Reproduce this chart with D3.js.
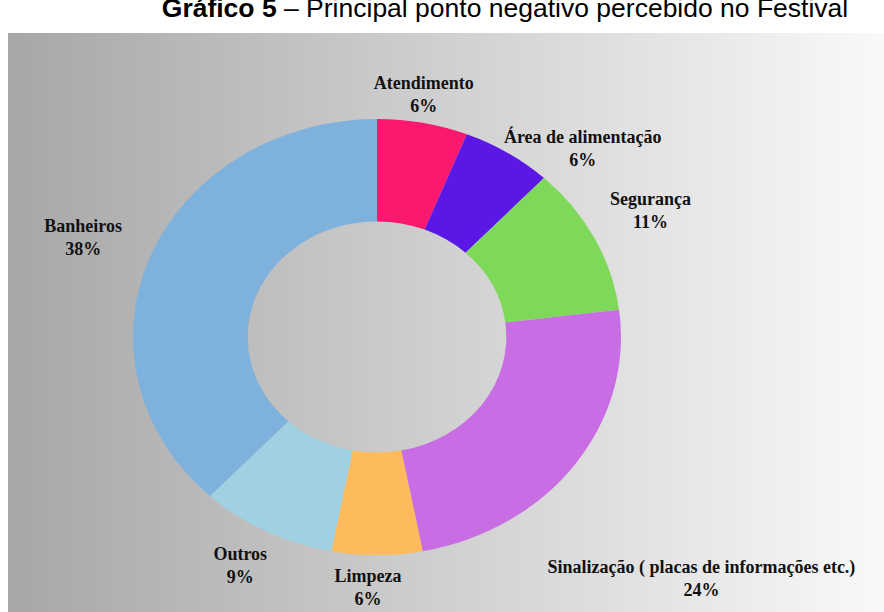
<!doctype html>
<html>
<head>
<meta charset="utf-8">
<title>Gráfico 5</title>
<script src="https://cdn.jsdelivr.net/npm/d3@7"></script>
<style>
  body { margin: 0; background: #fff; }
  .title { font-family: "Liberation Sans", Arial, sans-serif; font-size: 26.5px; fill: #000; }
  .lbl { font-family: "Liberation Serif", "Times New Roman", serif; font-size: 18px; font-weight: bold; fill: #111; }
</style>
</head>
<body>
<script>
// data
var categories = ["Atendimento", "Área de alimentação", "Segurança", "Sinalização ( placas de informações etc.)", "Limpeza", "Outros", "Banheiros"];
var values = [6, 6, 11, 24, 6, 9, 38];
var colors = ["#fc176f", "#5a17e6", "#7ed95a", "#c86de4", "#fdbb5b", "#9fd1e3", "#7eb1dc"];
// label offsets from the outer edge of each slice (manual placement like the original)
var labelNudge = [[1, -34], [75, -10], [56, -33], [127, 108], [-9, 27], [-26, 29], [-67, -25]];

var W = 884, H = 612;
var cx = 377, cy = 337, rx = 244, ry = 218, inner = 0.53;

var svg = d3.select("body").append("svg")
  .attr("width", W)
  .attr("height", H);

// background gradient
var defs = svg.append("defs");
var grad = defs.append("linearGradient").attr("id", "bg").attr("x1", "0%").attr("x2", "100%").attr("y1", "0%").attr("y2", "0%");
grad.append("stop").attr("offset", "0%").attr("stop-color", "#a7a7a7");
grad.append("stop").attr("offset", "100%").attr("stop-color", "#f9f9f9");

svg.append("rect")
  .attr("x", 8).attr("y", 33)
  .attr("width", W - 8).attr("height", H - 33)
  .attr("fill", "url(#bg)");

// title (cut at the top like the source)
var t = svg.append("text").attr("class", "title")
  .attr("x", 505).attr("y", 17)
  .attr("text-anchor", "middle");
t.append("tspan").attr("font-weight", "bold").text("Gráfico 5");
t.append("tspan").text(" – Principal ponto negativo percebido no Festival");

var pie = d3.pie().sort(null).value(function(d) { return d; });
var arcs = pie(values);

var arc = d3.arc().outerRadius(ry).innerRadius(ry * inner);

var g = svg.append("g")
  .attr("transform", "translate(" + cx + "," + cy + ") scale(" + (rx / ry) + ",1)");

g.selectAll("path")
  .data(arcs)
  .enter().append("path")
  .attr("d", arc)
  .attr("fill", function(d, i) { return colors[i]; });

// labels
var lg = svg.append("g");
arcs.forEach(function(d, i) {
  var a = (d.startAngle + d.endAngle) / 2;
  var x = cx + rx * Math.sin(a) + labelNudge[i][0];
  var y = cy - ry * Math.cos(a) + labelNudge[i][1];
  var txt = lg.append("text").attr("class", "lbl").attr("text-anchor", "middle");
  txt.append("tspan").attr("x", x).attr("y", y).text(categories[i]);
  txt.append("tspan").attr("x", x).attr("y", y + 23).text(values[i] + "%");
});
</script>
</body>
</html>
